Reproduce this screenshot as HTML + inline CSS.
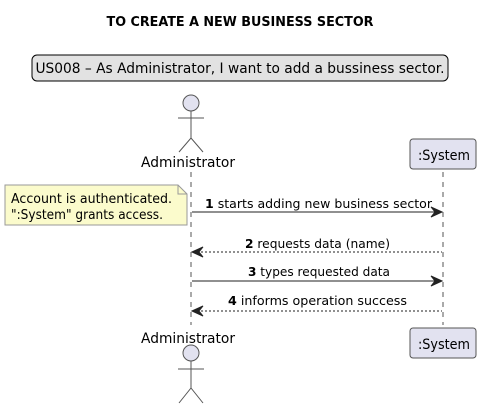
<!DOCTYPE html>
<html><head><style>
html,body{margin:0;padding:0;background:#fff;}
svg text{font-family:"DejaVu Sans","Liberation Sans",sans-serif;}
</style></head><body>
<svg width="481" height="409" viewBox="0 0 481 409" xmlns="http://www.w3.org/2000/svg">
<text x="240" y="26" text-anchor="middle" font-size="13" font-weight="bold" fill="#000" textLength="267" lengthAdjust="spacingAndGlyphs">TO CREATE A NEW BUSINESS SECTOR</text>
<rect x="32" y="55" width="416" height="26" rx="5" fill="#e2e2e2" stroke="#000" stroke-width="1"/>
<text x="240" y="73" text-anchor="middle" font-size="14" fill="#000" textLength="409" lengthAdjust="spacingAndGlyphs">US008 – As Administrator, I want to add a bussiness sector.</text>
<line x1="191" y1="172" x2="191" y2="325" stroke="#555" stroke-dasharray="5,5"/>
<line x1="443" y1="172" x2="443" y2="325" stroke="#555" stroke-dasharray="5,5"/>
<g stroke="#555" fill="none" stroke-width="1">
<circle cx="191" cy="103" r="8" fill="#e2e2f0"/>
<line x1="191" y1="111" x2="191" y2="138"/><line x1="178" y1="118" x2="204" y2="118"/>
<polyline points="179,152 191,138 203,152"/>
<circle cx="191" cy="353" r="8" fill="#e2e2f0"/>
<line x1="191" y1="361" x2="191" y2="388"/><line x1="178" y1="369" x2="204" y2="369"/>
<polyline points="179,403 191,388 203,403"/>
</g>
<text x="188" y="167" text-anchor="middle" font-size="14" textLength="94" lengthAdjust="spacingAndGlyphs">Administrator</text>
<text x="188" y="343" text-anchor="middle" font-size="14" textLength="94" lengthAdjust="spacingAndGlyphs">Administrator</text>
<rect x="410" y="139" width="66" height="30" rx="3" fill="#e2e2f0" stroke="#555"/>
<text x="444" y="160" text-anchor="middle" font-size="14" textLength="52" lengthAdjust="spacingAndGlyphs">:System</text>
<rect x="410" y="328" width="66" height="30" rx="3" fill="#e2e2f0" stroke="#555"/>
<text x="444" y="349" text-anchor="middle" font-size="14" textLength="52" lengthAdjust="spacingAndGlyphs">:System</text>
<path d="M5,185 H178 L187,194 V225 H5 Z" fill="#fbfbcc" stroke="#999"/>
<path d="M178,185 V194 H187" fill="none" stroke="#999"/>
<text x="11" y="203" font-size="13" textLength="161" lengthAdjust="spacingAndGlyphs">Account is authenticated.</text>
<text x="11" y="219" font-size="13" textLength="152" lengthAdjust="spacingAndGlyphs">":System" grants access.</text>
<g font-size="12.5">
<text x="205" y="208" textLength="227" lengthAdjust="spacingAndGlyphs"><tspan font-weight="bold">1</tspan> starts adding new business sector</text>
<text x="245" y="248" textLength="145" lengthAdjust="spacingAndGlyphs"><tspan font-weight="bold">2</tspan> requests data (name)</text>
<text x="248" y="276" textLength="142" lengthAdjust="spacingAndGlyphs"><tspan font-weight="bold">3</tspan> types requested data</text>
<text x="228" y="305" textLength="179" lengthAdjust="spacingAndGlyphs"><tspan font-weight="bold">4</tspan> informs operation success</text>
</g>
<g stroke="#222" fill="#222">
<line x1="192" y1="212" x2="441" y2="212"/><path d="M442,212 L431,207 L435,212 L431,217 Z"/>
<line x1="193" y1="252" x2="442" y2="252" stroke-dasharray="2,2"/><path d="M192,252 L203,247 L199,252 L203,257 Z"/>
<line x1="192" y1="281" x2="441" y2="281"/><path d="M442,281 L431,276 L435,281 L431,286 Z"/>
<line x1="193" y1="311" x2="442" y2="311" stroke-dasharray="2,2"/><path d="M192,311 L203,306 L199,311 L203,316 Z"/>
</g>
</svg>
</body></html>
